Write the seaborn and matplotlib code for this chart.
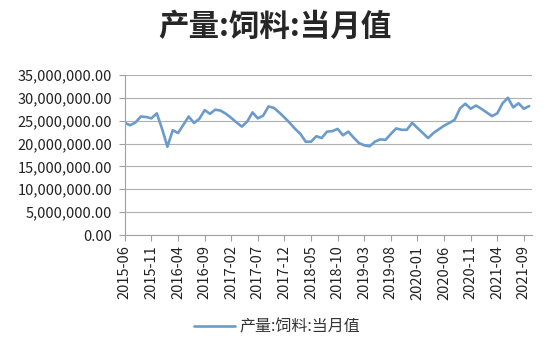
import matplotlib
matplotlib.use("Agg")
import matplotlib.pyplot as plt
import matplotlib.ticker as mticker
import seaborn as sns
import pandas as pd

# monthly feed output, 2015-06 .. 2021-10 (values in tonnes)
months = pd.period_range("2015-06", "2021-10", freq="M").strftime("%Y-%m").tolist()
values_m = [
    24.5, 24.0, 24.6, 25.9, 25.8, 25.5, 26.6, 23.2, 19.3, 22.9,
    22.3, 24.1, 25.9, 24.5, 25.4, 27.3, 26.5, 27.4, 27.2, 26.5,
    25.6, 24.6, 23.7, 24.8, 26.8, 25.5, 26.1, 28.1, 27.8, 26.8,
    25.7, 24.5, 23.2, 22.1, 20.4, 20.4, 21.6, 21.2, 22.6, 22.7,
    23.2, 21.8, 22.6, 21.3, 20.1, 19.6, 19.4, 20.4, 20.9, 20.8,
    22.1, 23.3, 23.0, 23.0, 24.5, 23.4, 22.3, 21.2, 22.3, 23.1,
    23.9, 24.5, 25.2, 27.7, 28.7, 27.6, 28.3, 27.6, 26.8, 26.0,
    26.6, 28.8, 30.0, 27.9, 28.8, 27.6, 28.2,
]
values = [v * 1e6 for v in values_m]
series_name = "产量:饲料:当月值"
title = "产量:饲料:当月值"

df = pd.DataFrame({"month": months, "idx": range(len(months)), "value": values})

sns.set_style("white")
plt.rcParams["font.family"] = ["Noto Sans CJK SC", "DejaVu Sans"]

fig = plt.figure(figsize=(5.5, 3.55), dpi=100)
ax = fig.add_axes([0.227, 0.338, 0.74, 0.451])

sns.lineplot(data=df, x="idx", y="value", ax=ax, color="#6a9bcb",
             linewidth=1.9, label=series_name)

ax.set_ylim(0, 35e6)
ax.set_yticks([i * 5e6 for i in range(8)])
ax.yaxis.set_major_formatter(mticker.FuncFormatter(lambda v, p: f"{v:,.2f}"))
ax.set_xlim(0, len(months) - 0.5)
tick_pos = list(range(0, len(months), 5))
ax.set_xticks(tick_pos)
ax.set_xticklabels([months[i] for i in tick_pos], rotation=90)
ax.set_xlabel("")
ax.set_ylabel("")

ax.grid(axis="y", color="#b0b0b0", linewidth=0.8)
ax.set_axisbelow(True)
for s in ["top", "right"]:
    ax.spines[s].set_visible(False)
for s in ["left", "bottom"]:
    ax.spines[s].set_color("#a0a0a0")
    ax.spines[s].set_linewidth(0.8)
ax.tick_params(axis="both", which="major", length=4, color="#a0a0a0",
               labelsize=10.5, labelcolor="#222222", bottom=True, left=True)
ax.tick_params(axis="y", pad=5)

fig.suptitle(title, fontsize=22, fontweight="bold", y=0.97, x=0.5)
ax.legend(loc="center", bbox_to_anchor=(0.374, -0.574), frameon=False,
          fontsize=11.5, handlelength=2.6, handletextpad=0.3,
          labelcolor="#333333")

fig.savefig("out.png", dpi=100)
